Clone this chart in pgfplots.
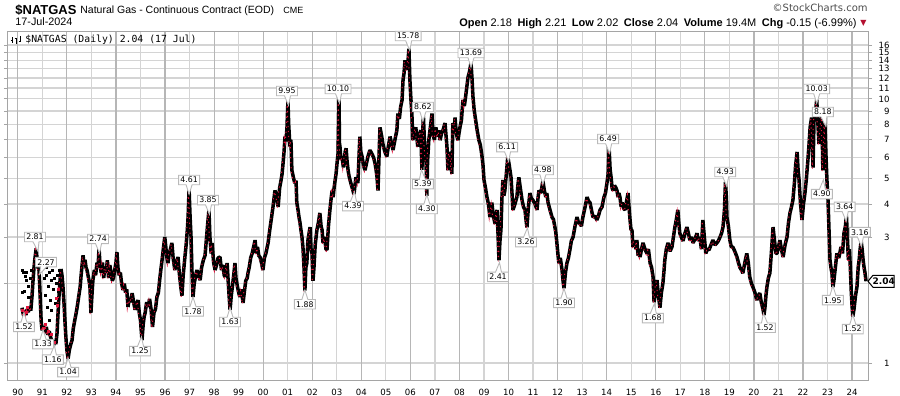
\documentclass[border=0pt]{standalone}
\usepackage{fontspec}
\usepackage{pgfplots}
\usepackage{pgfplotstable}
\pgfplotsset{compat=1.18}
\usetikzlibrary{shapes.callouts}
\setmainfont{DejaVu Sans}
\newfontfamily\arial{Liberation Sans}
\newfontfamily\djv{DejaVu Sans}
\newfontfamily\djvmono{DejaVu Sans Mono}
\definecolor{gridlt}{RGB}{212,212,212}
\definecolor{griddk}{RGB}{182,182,182}
\definecolor{framec}{RGB}{165,165,165}
\definecolor{downred}{RGB}{225,20,60}
\definecolor{anngray}{RGB}{185,185,185}
\newcommand\tickfont{\djv\fontsize{4.3}{5}\selectfont}
\newcommand\annfont{\djv\fontsize{3.9}{4.5}\selectfont}

\pgfplotstableread{
t v
1990.17 1.62
1990.21 1.55
1990.25 1.50
1990.29 1.58
1990.33 1.52
1990.38 1.60
1990.43 1.56
1990.48 1.63
1990.53 1.58
1990.58 1.80
1990.62 2.05
1990.66 2.30
1990.70 2.50
1990.75 2.72
1990.78 2.50
1990.82 2.30
1990.86 2.27
1990.89 2.00
1990.92 1.70
1990.95 1.45
1990.99 1.33
1991.04 1.38
1991.10 1.30
1991.16 1.37
1991.22 1.28
1991.28 1.32
1991.34 1.25
1991.40 1.20
1991.45 1.16
1991.50 1.22
1991.55 1.18
1991.60 1.30
1991.64 1.55
1991.68 1.80
1991.72 2.05
1991.76 2.27
1991.80 2.15
1991.84 1.95
1991.88 1.70
1991.92 1.45
1991.96 1.25
1992.00 1.12
1992.05 1.04
1992.10 1.12
1992.16 1.18
1992.21 1.22
1992.26 1.35
1992.32 1.45
1992.38 1.55
1992.42 1.63
1992.48 1.78
1992.54 1.94
1992.58 2.15
1992.62 2.35
1992.66 2.56
1992.70 2.35
1992.74 2.46
1992.78 2.30
1992.82 2.25
1992.86 2.15
1992.90 2.06
1992.94 1.95
1992.98 1.55
1993.02 1.80
1993.06 2.06
1993.12 2.25
1993.17 2.15
1993.23 2.40
1993.27 2.30
1993.31 2.72
1993.35 2.35
1993.40 2.20
1993.45 2.40
1993.50 2.10
1993.55 2.30
1993.60 2.20
1993.65 2.45
1993.70 2.10
1993.75 2.35
1993.80 2.20
1993.85 2.05
1993.90 2.10
1993.95 2.25
1994.00 2.40
1994.04 2.63
1994.08 2.30
1994.13 2.15
1994.18 2.20
1994.23 2.00
1994.29 1.89
1994.34 2.00
1994.39 1.85
1994.44 1.90
1994.49 1.63
1994.54 1.75
1994.59 1.70
1994.66 1.84
1994.72 1.70
1994.78 1.59
1994.84 1.68
1994.90 1.73
1994.95 1.55
1995.00 1.45
1995.06 1.22
1995.11 1.40
1995.15 1.50
1995.19 1.55
1995.25 1.70
1995.31 1.63
1995.37 1.75
1995.43 1.60
1995.49 1.37
1995.55 1.55
1995.61 1.60
1995.67 1.78
1995.73 1.85
1995.79 2.10
1995.84 2.30
1995.88 2.46
1995.94 2.75
1995.99 3.00
1996.04 2.70
1996.08 2.50
1996.12 2.39
1996.17 2.60
1996.22 2.70
1996.28 2.85
1996.33 2.50
1996.40 2.25
1996.46 2.40
1996.53 2.52
1996.58 2.20
1996.64 1.95
1996.69 1.80
1996.74 2.15
1996.81 2.52
1996.86 2.80
1996.91 3.20
1996.94 3.57
1996.98 4.55
1997.02 3.60
1997.06 3.00
1997.10 2.20
1997.14 1.78
1997.19 2.00
1997.25 2.15
1997.30 2.25
1997.36 2.15
1997.43 2.06
1997.49 2.30
1997.56 2.45
1997.63 2.55
1997.68 2.90
1997.73 3.30
1997.79 3.80
1997.83 3.00
1997.88 2.60
1997.92 2.85
1997.98 2.40
1998.04 2.25
1998.10 2.35
1998.16 2.50
1998.24 2.52
1998.30 2.25
1998.36 2.35
1998.41 2.15
1998.45 2.12
1998.50 2.30
1998.53 2.39
1998.58 2.00
1998.62 1.75
1998.65 1.59
1998.70 1.80
1998.76 2.00
1998.81 2.20
1998.85 2.39
1998.89 2.10
1998.95 1.95
1999.00 1.85
1999.05 1.78
1999.11 1.90
1999.18 1.69
1999.23 1.85
1999.29 2.05
1999.35 2.10
1999.38 2.19
1999.43 2.30
1999.49 2.50
1999.55 2.60
1999.61 2.75
1999.67 2.92
1999.72 2.60
1999.77 2.75
1999.82 2.55
1999.87 2.52
1999.93 2.40
1999.99 2.25
2000.05 2.50
2000.11 2.60
2000.20 2.85
2000.27 3.20
2000.33 3.50
2000.40 3.90
2000.48 4.50
2000.55 4.30
2000.61 3.90
2000.67 4.60
2000.73 4.93
2000.77 5.20
2000.81 5.70
2000.85 6.30
2000.89 7.20
2000.93 6.90
2000.97 7.80
2000.99 8.80
2001.01 9.85
2001.04 8.00
2001.09 6.60
2001.13 7.00
2001.17 5.37
2001.24 5.00
2001.29 4.80
2001.34 4.90
2001.37 4.05
2001.42 3.80
2001.46 3.57
2001.50 3.40
2001.54 3.19
2001.58 3.00
2001.62 2.75
2001.66 2.35
2001.70 1.88
2001.74 2.30
2001.78 2.39
2001.82 2.90
2001.87 3.10
2001.91 3.27
2001.95 2.70
2001.99 2.60
2002.03 2.05
2002.07 2.30
2002.12 2.80
2002.19 3.19
2002.25 3.40
2002.31 3.70
2002.36 3.30
2002.40 3.19
2002.44 2.85
2002.50 3.00
2002.56 2.70
2002.60 2.68
2002.66 3.30
2002.72 3.80
2002.77 4.20
2002.81 4.50
2002.85 4.25
2002.89 4.60
2002.93 4.90
2002.97 5.20
2003.01 5.70
2003.05 6.20
2003.09 10.00
2003.11 6.80
2003.13 6.60
2003.17 5.90
2003.21 6.05
2003.27 5.50
2003.34 6.30
2003.38 6.50
2003.42 5.80
2003.46 5.37
2003.50 5.10
2003.54 4.93
2003.60 4.70
2003.66 4.50
2003.70 4.35
2003.78 5.05
2003.86 4.80
2003.94 7.20
2003.98 6.30
2004.03 6.05
2004.09 5.60
2004.15 5.37
2004.21 5.70
2004.27 6.05
2004.35 6.40
2004.43 6.20
2004.50 6.00
2004.56 5.70
2004.60 5.40
2004.64 5.05
2004.68 4.50
2004.72 6.00
2004.76 7.80
2004.82 7.30
2004.88 6.75
2004.96 6.30
2005.04 6.05
2005.10 6.60
2005.17 7.20
2005.23 6.80
2005.29 6.40
2005.37 7.00
2005.45 7.62
2005.49 8.80
2005.55 8.40
2005.60 9.30
2005.66 9.90
2005.70 11.80
2005.74 12.50
2005.78 14.00
2005.82 13.20
2005.86 12.90
2005.90 13.80
2005.94 15.50
2005.98 11.80
2006.02 10.00
2006.06 8.80
2006.10 6.98
2006.16 7.50
2006.22 7.80
2006.26 7.20
2006.30 6.60
2006.36 7.20
2006.42 7.62
2006.47 5.39
2006.50 7.40
2006.53 8.62
2006.57 7.00
2006.61 6.20
2006.64 5.70
2006.67 4.30
2006.70 5.80
2006.75 6.98
2006.82 7.90
2006.88 8.80
2006.92 7.30
2006.98 7.00
2007.04 7.80
2007.10 7.20
2007.16 7.60
2007.21 6.98
2007.27 7.40
2007.33 7.62
2007.41 8.10
2007.45 7.30
2007.49 6.60
2007.53 5.37
2007.59 6.30
2007.65 6.05
2007.69 5.20
2007.73 8.10
2007.78 7.40
2007.82 8.50
2007.86 7.60
2007.90 7.20
2007.94 6.98
2007.98 7.40
2008.02 7.80
2008.08 8.30
2008.14 9.90
2008.20 9.40
2008.25 10.20
2008.30 11.10
2008.35 12.10
2008.41 12.70
2008.47 13.69
2008.51 12.00
2008.55 10.20
2008.60 9.07
2008.66 8.30
2008.72 7.62
2008.79 6.98
2008.85 6.70
2008.92 6.05
2008.96 5.60
2009.00 4.93
2009.06 4.60
2009.12 4.25
2009.18 4.00
2009.24 3.57
2009.32 4.05
2009.38 3.60
2009.45 3.37
2009.53 3.80
2009.57 3.10
2009.61 2.45
2009.65 2.90
2009.69 3.19
2009.73 4.20
2009.77 4.93
2009.81 4.30
2009.85 4.50
2009.91 5.20
2009.97 6.05
2010.03 5.60
2010.10 5.05
2010.14 4.40
2010.18 3.80
2010.26 4.00
2010.34 4.25
2010.38 4.70
2010.42 5.05
2010.48 4.60
2010.55 4.14
2010.61 3.90
2010.67 3.80
2010.71 3.50
2010.75 3.26
2010.81 3.90
2010.87 4.40
2010.93 4.20
2010.99 4.14
2011.08 4.00
2011.16 3.80
2011.20 4.20
2011.24 4.50
2011.32 4.40
2011.40 4.90
2011.46 4.50
2011.52 4.25
2011.56 4.40
2011.61 4.05
2011.69 3.80
2011.77 3.57
2011.83 3.50
2011.89 3.27
2011.93 3.10
2011.97 2.85
2012.01 2.60
2012.05 2.39
2012.11 2.50
2012.18 2.25
2012.22 2.05
2012.26 1.92
2012.32 2.20
2012.38 2.39
2012.44 2.50
2012.50 2.68
2012.56 2.90
2012.63 3.00
2012.71 3.30
2012.79 3.57
2012.85 3.40
2012.91 3.37
2012.97 3.30
2013.03 3.57
2013.12 3.90
2013.20 4.25
2013.26 4.10
2013.32 4.05
2013.38 3.80
2013.44 3.57
2013.52 3.60
2013.60 3.48
2013.66 3.60
2013.73 3.80
2013.81 3.90
2013.89 4.25
2013.95 4.40
2014.01 4.80
2014.06 5.20
2014.10 6.45
2014.14 5.40
2014.18 5.05
2014.22 4.60
2014.26 4.50
2014.32 4.70
2014.38 4.60
2014.42 4.50
2014.46 4.25
2014.50 4.40
2014.54 4.25
2014.59 3.90
2014.63 4.05
2014.69 3.85
2014.75 3.80
2014.81 4.10
2014.87 4.40
2014.91 3.90
2014.95 3.50
2014.99 3.20
2015.03 3.19
2015.07 2.75
2015.11 2.90
2015.15 2.85
2015.19 2.70
2015.23 2.92
2015.28 2.55
2015.32 2.60
2015.36 2.52
2015.42 2.70
2015.48 2.85
2015.56 2.70
2015.64 2.60
2015.70 2.70
2015.77 2.39
2015.83 2.30
2015.89 2.12
2015.93 1.70
2015.97 1.80
2016.01 2.00
2016.05 2.06
2016.11 1.80
2016.17 1.62
2016.23 1.85
2016.29 2.00
2016.33 2.20
2016.37 2.46
2016.43 2.70
2016.50 2.85
2016.58 2.65
2016.66 2.75
2016.72 3.00
2016.78 3.27
2016.84 3.50
2016.90 3.80
2016.94 3.40
2016.98 3.10
2017.04 3.00
2017.11 2.90
2017.19 3.10
2017.27 3.27
2017.33 3.10
2017.39 2.92
2017.45 3.00
2017.52 2.85
2017.60 2.95
2017.68 3.10
2017.74 2.90
2017.80 3.00
2017.86 2.70
2017.92 3.48
2017.98 3.00
2018.04 2.60
2018.10 2.70
2018.17 2.68
2018.25 2.80
2018.33 2.92
2018.41 2.80
2018.49 2.85
2018.55 2.90
2018.62 3.00
2018.68 3.10
2018.74 3.27
2018.80 3.80
2018.84 4.85
2018.88 4.20
2018.90 3.57
2018.96 3.30
2019.02 2.92
2019.08 2.75
2019.14 2.75
2019.22 2.65
2019.31 2.52
2019.37 2.40
2019.43 2.30
2019.49 2.25
2019.55 2.19
2019.63 2.40
2019.71 2.60
2019.77 2.40
2019.83 2.12
2019.90 2.00
2019.96 1.94
2020.04 1.85
2020.12 1.73
2020.18 1.80
2020.24 1.84
2020.30 1.70
2020.37 1.60
2020.41 1.52
2020.45 1.62
2020.49 1.80
2020.53 1.94
2020.59 2.10
2020.65 2.19
2020.71 2.60
2020.78 3.27
2020.84 2.90
2020.90 2.60
2020.94 2.60
2021.00 2.75
2021.06 2.92
2021.12 2.70
2021.19 2.52
2021.27 2.80
2021.35 3.00
2021.41 3.40
2021.47 3.70
2021.53 3.90
2021.59 4.14
2021.65 4.80
2021.70 5.60
2021.76 6.30
2021.80 5.40
2021.84 4.93
2021.90 4.00
2021.96 3.48
2022.02 4.00
2022.08 4.40
2022.14 5.00
2022.20 5.86
2022.25 6.80
2022.29 7.80
2022.35 8.50
2022.41 5.50
2022.45 8.30
2022.51 8.90
2022.56 9.95
2022.61 8.00
2022.65 6.75
2022.71 7.50
2022.77 8.80
2022.81 5.37
2022.86 6.80
2022.89 8.20
2022.94 6.00
2022.98 4.85
2023.02 4.14
2023.06 3.20
2023.10 2.46
2023.14 2.30
2023.18 2.19
2023.22 1.94
2023.26 2.05
2023.32 2.30
2023.38 2.60
2023.46 2.50
2023.55 2.75
2023.61 2.60
2023.67 3.10
2023.73 3.30
2023.77 3.62
2023.81 3.00
2023.85 2.46
2023.89 2.70
2023.93 2.30
2023.97 1.84
2024.00 1.65
2024.03 1.50
2024.08 1.60
2024.14 1.80
2024.20 1.94
2024.25 2.30
2024.29 2.46
2024.33 2.70
2024.37 2.90
2024.41 2.70
2024.45 2.46
2024.49 2.30
2024.53 2.19
2024.57 2.04
}\natgas

\pgfplotstableread{
t v
1990.17 2.25
1990.21 2.20
1990.29 2.12
1990.33 2.20
1990.37 2.05
1990.42 1.95
1990.50 2.10
1990.17 1.85
1990.25 1.86
1990.45 1.78
1990.55 2.25
1991.08 2.10
1991.12 1.80
1991.16 2.15
1991.18 2.30
1991.20 1.62
1991.24 1.95
1991.28 2.20
1991.30 1.45
1991.32 1.72
1991.36 2.05
1991.38 1.58
1991.40 2.25
1991.44 1.90
1991.48 2.10
1991.52 1.68
1991.56 2.00
1991.60 2.15
1991.64 1.86
1991.68 2.25
}\strayblack

\pgfplotstableread{
t v
1990.20 1.58
1990.27 1.52
1990.35 1.55
1990.40 1.62
1991.06 1.35
1991.14 1.40
1991.26 1.32
1991.36 1.28
1991.50 1.20
1991.58 1.75
1991.62 1.65
1991.66 1.90
}\strayred

\begin{document}
\begin{tikzpicture}[
  ann/.style={rectangle callout, draw=anngray, fill=white, line width=0.45pt, inner xsep=0.9pt, inner ysep=0.9pt, font=\annfont, callout pointer width=3pt, text=black},
  dn/.style={ann, callout relative pointer={(#1,-4.8pt)}},
  up/.style={ann, callout relative pointer={(#1,4.8pt)}},
]
\useasboundingbox (0,0) rectangle (450pt,198pt);
% header
\node[anchor=base west, inner sep=0pt, font=\arial\bfseries\fontsize{6.5}{7}\selectfont] at (7.5pt,190.5pt) {\$NATGAS};
\node[anchor=base west, inner sep=0pt, font=\arial\fontsize{5.25}{6}\selectfont] at (40pt,191pt) {Natural Gas - Continuous Contract (EOD)};
\node[anchor=base west, inner sep=0pt, font=\arial\fontsize{4.5}{5}\selectfont] at (141.5pt,191pt) {CME};
\node[anchor=base west, inner sep=0pt, font=\arial\fontsize{5.4}{6}\selectfont] at (7.5pt,185pt) {17-Jul-2024};
\node[anchor=base east, inner sep=0pt, font=\djv\fontsize{5}{6}\selectfont, text=black!70] at (434pt,192.3pt) {©StockCharts.com};
\node[anchor=base east, inner sep=0pt, font=\arial\fontsize{5.5}{6}\selectfont] at (428.5pt,184.8pt) {\textbf{Open} 2.18\enspace\textbf{High} 2.21\enspace\textbf{Low} 2.02\enspace\textbf{Close} 2.04\enspace\textbf{Volume} 19.4M\enspace\textbf{Chg} -0.15 (-6.99\%)};
\node[anchor=base west, inner sep=0pt, font=\djv\fontsize{4}{5}\selectfont, text=downred!80!black] at (430pt,185.4pt) {▼};

\begin{axis}[
  at={(4pt,7.75pt)}, anchor=south west,
  scale only axis, width=430pt, height=174.25pt,
  xmin=1989.60, xmax=2024.65,
  ymode=log, ymin=0.859, ymax=17.92,
  clip mode=individual,
  axis line style={framec, line width=0.5pt},
  xtick={1990,1991,1992,1993,1994,1995,1996,1997,1998,1999,2000,2001,2002,2003,2004,2005,2006,2007,2008,2009,2010,2011,2012,2013,2014,2015,2016,2017,2018,2019,2020,2021,2022,2023,2024},
  xticklabels={90,91,92,93,94,95,96,97,98,99,00,01,02,03,04,05,06,07,08,09,10,11,12,13,14,15,16,17,18,19,20,21,22,23,24},
  ytick={1,2,3,4,5,6,7,8,9,10,11,12,13,14,15,16},
  yticklabels={1,,3,4,5,6,7,8,9,10,11,12,13,14,15,16},
  yticklabel pos=right,
  minor ytick={},
  tick align=outside,
  x tick style={draw=none},
  y tick style={framec, line width=0.4pt},
  major tick length=2pt,
  grid=major,
  major grid style={gridlt, line width=0.6pt},
  extra x ticks={1990,1992,1994,1996,1998,2000,2002,2004,2006,2008,2010,2012,2014,2016,2018,2020,2022,2024},
  extra x tick labels={},
  extra x tick style={grid=major, major grid style={griddk, line width=0.6pt}, major tick length=0pt},
  xticklabel style={font=\tickfont, inner sep=0pt, anchor=north, yshift=-2.2pt},
  yticklabel style={font=\tickfont, inner sep=0pt, anchor=east, xshift=9pt},
]
\addplot[black, line width=1.75pt, line join=bevel] table[x=t, y=v] {\natgas};
\addplot[downred, line width=0.5pt, dash pattern=on 0.6pt off 1.9pt, yshift=-0.6pt, xshift=-0.35pt] table[x=t, y=v] {\natgas};
\addplot[only marks, mark=square*, mark size=0.5pt, black] table[x=t, y=v] {\strayblack};
\addplot[only marks, mark=square*, mark size=0.5pt, downred] table[x=t, y=v] {\strayred};

\node[dn=1pt] at (axis cs:1990.70,3.0) {2.81};
\node[ann, callout relative pointer={(-2pt,-3.8pt)}] at (axis cs:1991.15,2.41) {2.27};
\node[up=0pt] at (axis cs:1990.25,1.37) {1.52};
\node[up=0pt] at (axis cs:1991.03,1.18) {1.33};
\node[up=0.5pt] at (axis cs:1991.43,1.03) {1.16};
\node[up=0pt] at (axis cs:1992.05,0.924) {1.04};
\node[dn=0.5pt] at (axis cs:1993.27,2.95) {2.74};
\node[up=0.5pt] at (axis cs:1994.98,1.11) {1.25};
\node[dn=0pt] at (axis cs:1996.98,4.93) {4.61};
\node[up=0pt] at (axis cs:1997.14,1.57) {1.78};
\node[dn=0.5pt] at (axis cs:1997.75,4.14) {3.85};
\node[up=0pt] at (axis cs:1998.65,1.43) {1.63};
\node[up=0pt] at (axis cs:2001.70,1.67) {1.88};
\node[dn=0.5pt] at (axis cs:2000.97,10.71) {9.95};
\node[dn=0.5pt] at (axis cs:2003.05,10.9) {10.10};
\node[up=0.5pt] at (axis cs:2003.66,3.93) {4.39};
\node[dn=0.5pt] at (axis cs:2005.91,17.3) {15.78};
\node[dn=0pt] at (axis cs:2006.51,9.32) {8.62};
\node[up=-0.5pt] at (axis cs:2006.51,4.76) {5.39};
\node[up=0pt] at (axis cs:2006.67,3.83) {4.30};
\node[dn=0pt] at (axis cs:2008.47,14.92) {13.69};
\node[dn=0.5pt] at (axis cs:2009.94,6.57) {6.11};
\node[up=0.5pt] at (axis cs:2009.57,2.12) {2.41};
\node[dn=0pt] at (axis cs:2011.40,5.38) {4.98};
\node[up=0.5pt] at (axis cs:2010.71,2.87) {3.26};
\node[up=0pt] at (axis cs:2012.26,1.69) {1.90};
\node[dn=0.5pt] at (axis cs:2014.06,7.05) {6.49};
\node[up=0.5pt] at (axis cs:2015.88,1.48) {1.68};
\node[dn=0.5pt] at (axis cs:2018.83,5.29) {4.93};
\node[up=-0.5pt] at (axis cs:2020.45,1.36) {1.52};
\node[dn=0pt] at (axis cs:2022.56,10.9) {10.03};
\node[dn=1pt] at (axis cs:2022.81,8.92) {8.18};
\node[up=0.5pt] at (axis cs:2022.77,4.36) {4.90};
\node[dn=0.5pt] at (axis cs:2023.70,3.9) {3.64};
\node[dn=0.5pt] at (axis cs:2024.32,3.13) {3.16};
\node[up=0pt] at (axis cs:2023.22,1.73) {1.95};
\node[up=0pt] at (axis cs:2024.03,1.345) {1.52};

% current price marker
\draw[black, fill=white, line width=0.5pt] (axis cs:2024.65,2.04) -- ++(2.5pt,3pt) -- ++(10.5pt,0pt) -- ++(0pt,-6pt) -- ++(-10.5pt,0pt) -- cycle;
\node[inner sep=0pt, font=\djv\bfseries\fontsize{4.5}{5}\selectfont, xshift=7.9pt] at (axis cs:2024.65,2.04) {2.04};
\end{axis}

% legend line inside plot
\begin{scope}[line width=0.45pt]
  \draw[black] (6pt,176.6pt) -- (6pt,179.6pt) (5.3pt,177.6pt) -- (6pt,177.6pt) (6pt,178.8pt) -- (6.7pt,178.8pt);
  \draw[black] (8pt,176.2pt) -- (8pt,179.2pt) (7.3pt,178.8pt) -- (8pt,178.8pt) (8pt,176.8pt) -- (8.7pt,176.8pt);
  \draw[black] (10pt,177pt) -- (10pt,180pt) (9.3pt,177.4pt) -- (10pt,177.4pt) (10pt,179.4pt) -- (10.7pt,179.4pt);
\end{scope}
\node[anchor=base west, inner sep=0pt, font=\djvmono\fontsize{4.9}{5.5}\selectfont] at (12.5pt,176.6pt) {\$NATGAS (Daily) 2.04 (17 Jul)};
\end{tikzpicture}
\end{document}
